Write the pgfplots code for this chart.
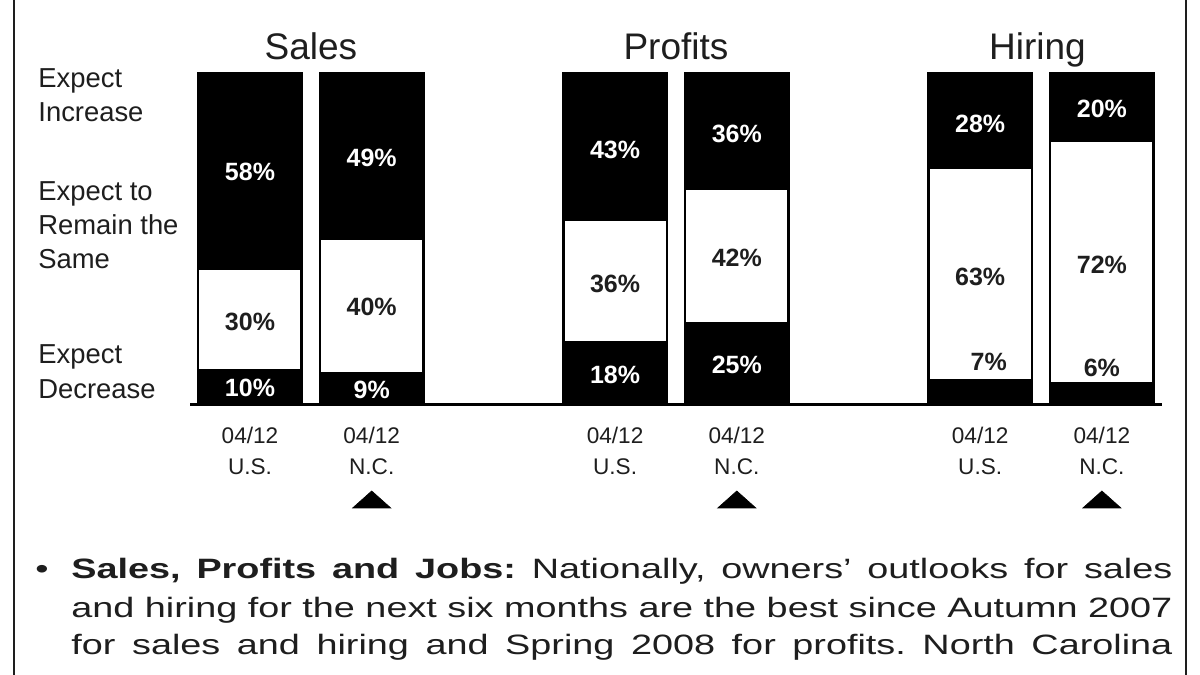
\documentclass[border=0pt]{standalone}
\usepackage{fontspec}
\setmainfont{Liberation Sans}
\newfontfamily\bodyfont[FakeStretch=1.35]{Liberation Sans}
\usepackage{pgfplots}
\pgfplotsset{compat=1.18}
\usepackage{pgfplotstable}
\definecolor{ink}{HTML}{1E1E1E}

% bar heights (shares scaled so every bar reaches the same top)
\pgfplotstableread{
x dec same inc
0 10.20 30.61 59.18
1 9.18 40.82 50.00
3 18.56 37.11 44.33
4 24.27 40.78 34.95
6 7.14 64.29 28.57
7 6.12 73.47 20.41
}\bars

% labels written in white (on black)
\pgfplotstableread{
x y label
0 70.1 58
1 74.3 49
0 4.8 10
1 4.2 9
3 76.7 43
4 81.6 36
3 8.8 18
4 11.8 25
6 84.6 28
7 89.1 20
}\whitelabels

% labels written in black (on white)
\pgfplotstableread{
x y label
0 24.8 30
1 29.3 40
3 36.3 36
4 44.1 42
6 38.4 63
7 42.0 72
6.07 12.7 7
7 10.9 6
}\blacklabels

\begin{document}
\frenchspacing
\begin{tikzpicture}
\useasboundingbox (0,0) rectangle (600pt,-337.5pt);
\fill[white] (0,0) rectangle (600pt,-337.5pt);
% frame lines
\draw[line width=1pt, ink] (7pt,0) -- (7pt,-337.5pt);
\draw[line width=1pt, ink] (593pt,0) -- (593pt,-337.5pt);

\begin{axis}[
  at={(95pt,-202pt)}, anchor=south west,
  scale only axis, width=486pt, height=165.5pt,
  xmin=-0.493, xmax=7.494, ymin=0, ymax=100,
  ybar stacked, bar width=51.75pt,
  axis x line*=bottom, axis y line=none,
  x axis line style={-, line width=1.5pt, black},
  xtick={0,1,3,4,6,7},
  xticklabels={{04/12\\U.S.},{04/12\\N.C.},{04/12\\U.S.},{04/12\\N.C.},{04/12\\U.S.},{04/12\\N.C.}},
  major tick length=0pt,
  xticklabel style={align=center, font=\fontsize{11.3}{15.5}\selectfont, text=ink, inner sep=0pt, anchor=north, yshift=-11.5pt},
  clip=false,
]
\addplot[fill=black, draw=black, line width=1.25pt] table[x=x, y=dec] {\bars};
\addplot[fill=white, draw=black, line width=1.25pt] table[x=x, y=same] {\bars};
\addplot[fill=black, draw=black, line width=1.25pt] table[x=x, y=inc] {\bars};

\node[anchor=base, font=\fontsize{18.5}{20}\selectfont, text=ink] at (axis cs:0.5,100) [yshift=7pt] {Sales};
\node[anchor=base, font=\fontsize{18.5}{20}\selectfont, text=ink] at (axis cs:3.5,100) [yshift=7pt] {Profits};
\node[anchor=base, font=\fontsize{18.5}{20}\selectfont, text=ink] at (axis cs:6.47,100) [yshift=7pt] {Hiring};
\end{axis}

\begin{axis}[
  at={(95pt,-202pt)}, anchor=south west,
  scale only axis, width=486pt, height=165.5pt,
  xmin=-0.493, xmax=7.494, ymin=0, ymax=100,
  hide axis, clip=false,
]
\addplot[draw=none, mark=none, nodes near coords={\pgfplotspointmeta\%}, point meta=explicit symbolic,
  every node near coord/.style={anchor=center, inner sep=0pt, text=white, font=\fontsize{12.5}{14}\selectfont\bfseries}]
  table[x=x, y=y, meta=label] {\whitelabels};
\addplot[draw=none, mark=none, nodes near coords={\pgfplotspointmeta\%}, point meta=explicit symbolic,
  every node near coord/.style={anchor=center, inner sep=0pt, text=ink, font=\fontsize{12.5}{14}\selectfont\bfseries}]
  table[x=x, y=y, meta=label] {\blacklabels};
\addplot[only marks, mark=triangle*, mark size=11pt, mark options={yscale=0.515, fill=black, draw=black, line width=0.3pt}]
  coordinates {(1,-29.7) (4,-29.7) (7,-29.7)};
\end{axis}

% row labels (anchored at the baseline of their last line)
\node[anchor=base west, align=left, inner sep=0pt, font=\fontsize{13.7}{17}\selectfont, text=ink] at (19pt,-60.5pt) {Expect\\Increase};
\node[anchor=base west, align=left, inner sep=0pt, font=\fontsize{13.7}{17}\selectfont, text=ink] at (19pt,-134pt) {Expect to\\Remain the\\Same};
\node[anchor=base west, align=left, inner sep=0pt, font=\fontsize{13.7}{17.5}\selectfont, text=ink] at (19pt,-199pt) {Expect\\Decrease};

% bullet text
\node[anchor=base, inner sep=0pt, font=\fontsize{14}{18}\selectfont, text=ink] at (21pt,-289pt) {\bodyfont •};
\node[anchor=base west, inner sep=0pt, font=\fontsize{14}{18}\selectfont, text=ink] at (35.5pt,-289pt)
  {\makebox[550.5pt][s]{\bodyfont{\bfseries Sales, Profits and Jobs:} Nationally, owners’ outlooks for sales}};
\node[anchor=base west, inner sep=0pt, font=\fontsize{14}{18}\selectfont, text=ink] at (35.5pt,-308.5pt)
  {\makebox[550.5pt][s]{\bodyfont and hiring for the next six months are the best since Autumn 2007}};
\node[anchor=base west, inner sep=0pt, font=\fontsize{14}{18}\selectfont, text=ink] at (35.5pt,-327pt)
  {\makebox[550.5pt][s]{\bodyfont for sales and hiring and Spring 2008 for profits. North Carolina}};
\end{tikzpicture}
\end{document}
